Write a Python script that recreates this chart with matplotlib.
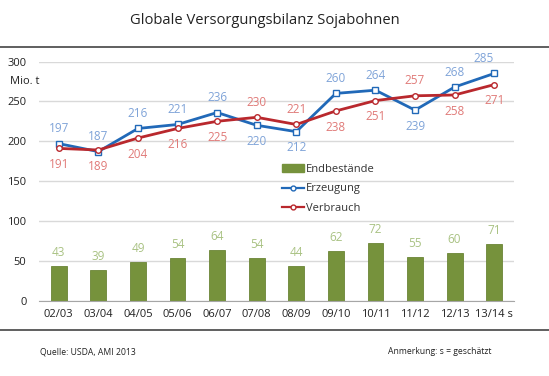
import matplotlib
matplotlib.use("Agg")
import matplotlib.pyplot as plt
from matplotlib.lines import Line2D
import numpy as np

plt.rcParams['font.family'] = ['Open Sans', 'DejaVu Sans']

# data (Mio. t)
jahre = ["02/03", "03/04", "04/05", "05/06", "06/07", "07/08",
         "08/09", "09/10", "10/11", "11/12", "12/13", "13/14 s"]
endbestaende = [43, 39, 49, 54, 64, 54, 44, 62, 72, 55, 60, 71]
erzeugung = [197, 187, 216, 221, 236, 220, 212, 260, 264, 239, 268, 285]
verbrauch = [191, 189, 204, 216, 225, 230, 221, 238, 251, 257, 258, 271]

# label below the point (True) or above (False)
erz_unten = [False, False, False, False, False, True, True, False, False, True, False, False]
verb_unten = [True, True, True, True, True, False, False, True, True, False, True, True]

gruen = "#76923C"
blau = "#2169B8"
rot = "#B9282D"
gruen_txt = "#A9C283"
blau_txt = "#7FA3D8"
rot_txt = "#E07A78"

fig = plt.figure(figsize=(5.49, 3.76), dpi=100)
ax = fig.add_axes([39 / 549, 1 - 300.7 / 376, 475 / 549, 239.2 / 376])

x = np.arange(len(jahre))
ax.bar(x, endbestaende, width=0.4, color=gruen, edgecolor="#6A8535", linewidth=0.6,
       zorder=2, label="Endbestände")
ax.plot(x, erzeugung, color=blau, lw=2.0, marker="s", ms=4, mfc="white", mec=blau,
        mew=1.0, zorder=3, label="Erzeugung")
ax.plot(x, verbrauch, color=rot, lw=2.0, marker="o", ms=4, mfc="white", mec=rot,
        mew=1.0, zorder=3, label="Verbrauch")

for i, v in enumerate(endbestaende):
    ax.annotate(str(v), (x[i], v), xytext=(0, 5), textcoords="offset points",
                ha="center", va="bottom", color=gruen_txt, fontsize=8.5)
for i, v in enumerate(erzeugung):
    dy = -7 if erz_unten[i] else 6
    dx = -8 if i == len(jahre) - 1 else 0
    ax.annotate(str(v), (x[i], v), xytext=(dx, dy), textcoords="offset points",
                ha="center", va="top" if erz_unten[i] else "bottom",
                color=blau_txt, fontsize=8.5)
for i, v in enumerate(verbrauch):
    dy = -7 if verb_unten[i] else 6
    ax.annotate(str(v), (x[i], v), xytext=(0, dy), textcoords="offset points",
                ha="center", va="top" if verb_unten[i] else "bottom",
                color=rot_txt, fontsize=8.5)

ax.set_xlim(-0.5, len(jahre) - 0.5)
ax.set_ylim(0, 300)
ax.set_yticks([0, 50, 100, 150, 200, 250, 300])
ax.set_xticks(x)
ax.set_xticklabels(jahre)
ax.tick_params(axis="both", length=0, labelsize=8, colors="#222222")
ax.tick_params(axis="x", pad=6)
ax.tick_params(axis="y", pad=9)
ax.grid(axis="y", color="#D9D9D9", lw=1.0, zorder=0)
for s in ["top", "right", "left"]:
    ax.spines[s].set_visible(False)
ax.spines["bottom"].set_color("#A6A6A6")
ax.set_axisbelow(True)

fig.text(10 / 549, 1 - 81 / 376, "Mio. t", fontsize=8, color="#222222", va="center")

handles = [
    plt.Rectangle((0, 0), 1, 1, color=gruen),
    Line2D([], [], color=blau, lw=1.6, marker="o", ms=3.5, mfc="white", mec=blau),
    Line2D([], [], color=rot, lw=1.6, marker="o", ms=3.5, mfc="white", mec=rot),
]
ax.legend(handles, ["Endbestände", "Erzeugung", "Verbrauch"],
          loc="upper left", bbox_to_anchor=(237 / 475, 1 - (158 - 61.5) / 239.2),
          frameon=False, fontsize=8, handlelength=2.0, handletextpad=0.2,
          labelspacing=0.8, borderpad=0, labelcolor="#333333")

fig.text(0.482, 1 - 20 / 376, "Globale Versorgungsbilanz Sojabohnen", ha="center",
         va="center", fontsize=10.6, color="#222222")
fig.add_artist(Line2D([0, 1], [1 - 46.5 / 376] * 2, color="#444444", lw=1.2))
fig.add_artist(Line2D([0, 1], [1 - 330 / 376] * 2, color="#444444", lw=1.2))
fig.text(40 / 549, 1 - 352 / 376, "Quelle: USDA, AMI 2013", fontsize=6.2,
         color="#222222", va="center")
fig.text(491 / 549, 1 - 352 / 376, "Anmerkung: s = geschätzt", fontsize=6.2,
         color="#222222", va="center", ha="right")

fig.savefig("out.png", dpi=100)
